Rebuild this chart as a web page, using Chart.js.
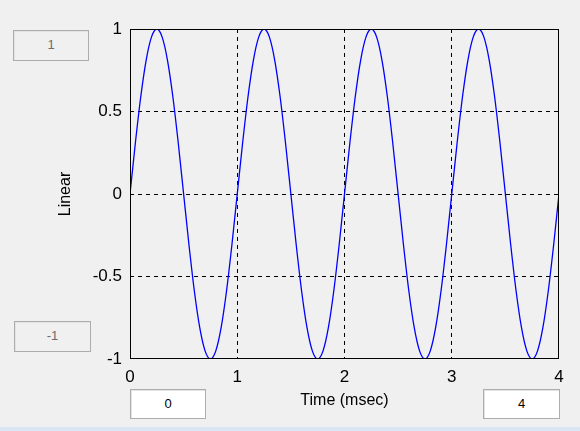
<!DOCTYPE html>
<html lang="en">
<head>
    <meta charset="UTF-8">
    <title>Linear - Time (msec)</title>
    <script src="https://cdn.jsdelivr.net/npm/chart.js"></script>
    <style>
        html, body {
            margin: 0;
            padding: 0;
            background: #f0f0f0;
            font-family: "Liberation Sans", Arial, sans-serif;
        }
        .wrap {
            position: relative;
            width: 580px;
            height: 431px;
            overflow: hidden;
        }
        #plot {
            position: absolute;
            left: 0;
            top: 0;
        }
        .box {
            position: absolute;
            box-sizing: border-box;
            border: 1px solid #adadad;
            box-shadow: inset 1px 1px 0 #e3e3e3;
            font-size: 13px;
            text-align: center;
            line-height: 28px;
        }
        .box.off {
            background: #f0f0f0;
            color: #6d6d6d;
        }
        .box.on {
            background: #fff;
            color: #000;
        }
        .strip {
            position: absolute;
            left: 0;
            right: 0;
            top: 427px;
            height: 4px;
            background: #dae6f3;
        }
    </style>
</head>
<body>
    <div class="wrap">
        <canvas id="plot" width="580" height="431"></canvas>
        <div class="box off" style="left:13px; top:30px; width:76px; height:31px;">1</div>
        <div class="box off" style="left:14px; top:321px; width:77px; height:31px;">-1</div>
        <div class="box on" style="left:130px; top:389px; width:76px; height:30px;">0</div>
        <div class="box on" style="left:483px; top:389px; width:77px; height:30px;">4</div>
        <div class="strip"></div>
    </div>

    <script>
        // time axis in msec and the signal
        const timeMs = [
            0, 0.05, 0.1, 0.15, 0.2, 0.25, 0.3, 0.35, 0.4, 0.45,
            0.5, 0.55, 0.6, 0.65, 0.7, 0.75, 0.8, 0.85, 0.9, 0.95,
            1, 1.05, 1.1, 1.15, 1.2, 1.25, 1.3, 1.35, 1.4, 1.45,
            1.5, 1.55, 1.6, 1.65, 1.7, 1.75, 1.8, 1.85, 1.9, 1.95,
            2, 2.05, 2.1, 2.15, 2.2, 2.25, 2.3, 2.35, 2.4, 2.45,
            2.5, 2.55, 2.6, 2.65, 2.7, 2.75, 2.8, 2.85, 2.9, 2.95,
            3, 3.05, 3.1, 3.15, 3.2, 3.25, 3.3, 3.35, 3.4, 3.45,
            3.5, 3.55, 3.6, 3.65, 3.7, 3.75, 3.8, 3.85, 3.9, 3.95,
            4
        ];
        const signal = [
            0, 0.309, 0.588, 0.809, 0.951, 1, 0.951, 0.809, 0.588, 0.309,
            0, -0.309, -0.588, -0.809, -0.951, -1, -0.951, -0.809, -0.588, -0.309,
            0, 0.309, 0.588, 0.809, 0.951, 1, 0.951, 0.809, 0.588, 0.309,
            0, -0.309, -0.588, -0.809, -0.951, -1, -0.951, -0.809, -0.588, -0.309,
            0, 0.309, 0.588, 0.809, 0.951, 1, 0.951, 0.809, 0.588, 0.309,
            0, -0.309, -0.588, -0.809, -0.951, -1, -0.951, -0.809, -0.588, -0.309,
            0, 0.309, 0.588, 0.809, 0.951, 1, 0.951, 0.809, 0.588, 0.309,
            0, -0.309, -0.588, -0.809, -0.951, -1, -0.951, -0.809, -0.588, -0.309,
            0
        ];
        const xTicks = [0, 1, 2, 3, 4];
        const yTicks = [-1, -0.5, 0, 0.5, 1];

        const tickFont = { family: '"Liberation Sans", Arial, sans-serif', size: 17 };
        const titleFont = { family: '"Liberation Sans", Arial, sans-serif', size: 16 };

        // dashed grid only inside the box, the frame is drawn below
        const innerGrid = (lo, hi) => ctx =>
            (ctx.tick && (ctx.tick.value === lo || ctx.tick.value === hi)) ? 'rgba(0,0,0,0)' : '#000';

        const frame = {
            id: 'frame',
            afterDraw(chart) {
                const { ctx, chartArea: a } = chart;
                ctx.save();
                ctx.strokeStyle = '#000';
                ctx.lineWidth = 1;
                ctx.strokeRect(Math.round(a.left) + 0.5, Math.round(a.top) + 0.5,
                    Math.round(a.right - a.left) - 1, Math.round(a.bottom - a.top) - 1);
                ctx.restore();
            }
        };

        new Chart(document.getElementById('plot'), {
            type: 'line',
            data: {
                datasets: [{
                    data: timeMs.map((t, i) => ({ x: t, y: signal[i] })),
                    borderColor: '#0000ff',
                    borderWidth: 1.3,
                    pointRadius: 0,
                    cubicInterpolationMode: 'monotone',
                    fill: false
                }]
            },
            options: {
                responsive: false,
                animation: false,
                layout: { padding: { left: 0, top: 29, right: 21, bottom: 0 } },
                plugins: {
                    legend: { display: false },
                    tooltip: { enabled: false }
                },
                scales: {
                    x: {
                        type: 'linear',
                        min: 0,
                        max: 4,
                        afterBuildTicks: s => { s.ticks = xTicks.map(v => ({ value: v })); },
                        afterFit: s => { s.height = 72; },
                        ticks: { color: '#000', font: tickFont, padding: 8, maxRotation: 0, callback: v => String(v) },
                        grid: { color: innerGrid(0, 4), lineWidth: 1, drawTicks: false },
                        border: { display: false, dash: [4, 4] },
                        title: {
                            display: true,
                            text: 'Time (msec)',
                            color: '#000',
                            font: titleFont,
                            padding: { top: 0, bottom: 21 }
                        }
                    },
                    y: {
                        min: -1,
                        max: 1,
                        afterBuildTicks: s => { s.ticks = yTicks.map(v => ({ value: v })); },
                        afterFit: s => { s.width = 130; },
                        ticks: { color: '#000', font: tickFont, padding: 8, callback: v => String(v) },
                        grid: { color: innerGrid(-1, 1), lineWidth: 1, drawTicks: false },
                        border: { display: false, dash: [4, 4] },
                        title: {
                            display: true,
                            text: 'Linear',
                            color: '#000',
                            font: titleFont,
                            padding: { top: 56, bottom: 0 }
                        }
                    }
                }
            },
            plugins: [frame]
        });
    </script>
</body>
</html>
